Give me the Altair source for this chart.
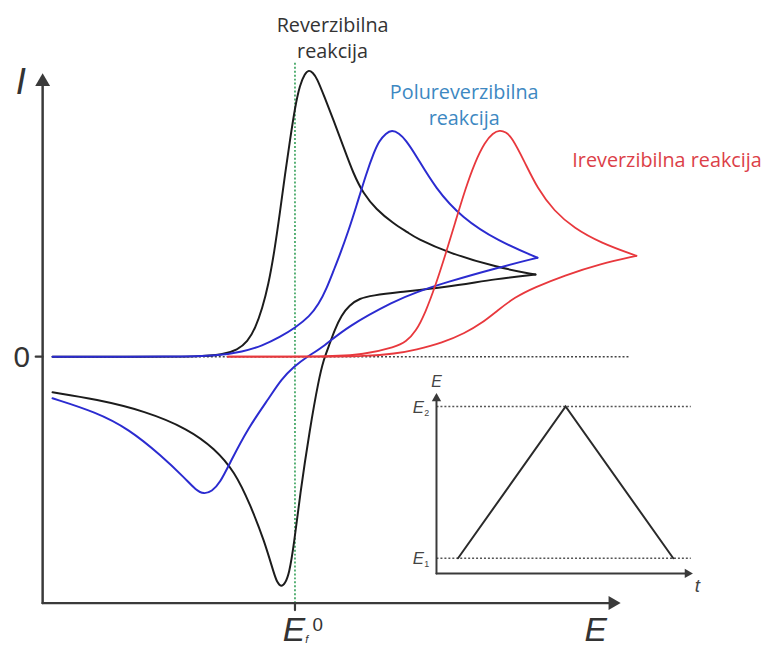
import altair as alt
import pandas as pd

# ---------------- main cyclic voltammograms (E relative to E0, current I; arbitrary units)
rev_fwd_E = [-245, -148, -98, -73, -58, -48, -40, -33, -27, -21, -15, -10, -5, 0, 5, 10, 14, 18, 22, 30, 39, 49, 59, 69, 82, 99, 115, 122, 155, 205, 243]
rev_fwd_I = [0, 0, 0, 2, 7, 15, 29, 49, 72, 105, 147, 185, 219, 252, 275, 286, 290, 287, 282, 262, 239, 212, 185, 165, 149, 135, 125, 120, 105, 90, 83]
rev_bwd_E = [243, 205, 152, 102, 79, 65, 55, 47, 40, 34, 29, 24, 15, 5, -1, -6, -10, -14, -18, -21, -31, -45, -61, -81, -108, -151, -201, -245]
rev_bwd_I = [83, 79, 70, 65, 62, 59, 52, 42, 27, 10, -3, -23, -73, -140, -190, -220, -229, -233, -228, -220, -186, -150, -116, -93, -73, -55, -43, -36]

quasi_fwd_E = [-245, -118, -78, -53, -33, -15, 0, 15, 24, 32, 39, 45, 54, 62, 72, 80, 85, 92, 98, 105, 112, 122, 142, 169, 205, 245]
quasi_fwd_I = [0, 0, 1, 5, 11, 20, 29, 41, 53, 69, 87, 102, 127, 152, 185, 207, 218, 226, 229, 226, 219, 204, 170, 140, 117, 100]
quasi_bwd_E = [245, 205, 152, 122, 102, 52, 29, 12, -1, -14, -25, -48, -65, -76, -84, -92, -100, -111, -135, -168, -201, -245]
quasi_bwd_I = [100, 90, 75, 65, 57, 30, 10, 0, -10, -23, -40, -73, -106, -128, -136, -139, -135, -123, -100, -73, -56, -42]

irr_fwd_E = [-68, 35, 69, 102, 112, 122, 132, 142, 152, 162, 172, 182, 192, 200, 207, 213, 219, 232, 245, 262, 282, 309, 345]
irr_fwd_I = [0, 0, 2, 10, 15, 25, 45, 72, 103, 136, 169, 197, 217, 226, 229, 227, 222, 197, 170, 147, 130, 115, 102]
irr_bwd_E = [345, 309, 272, 242, 222, 205, 189, 172, 149, 122, 102, 69, 35, -68]
irr_bwd_I = [102, 94, 82, 70, 60, 47, 34, 24, 14, 7, 3, 0.5, 0, 0]

# ---------------- inset: triangular potential sweep (t, E normalised: E1 = 0, E2 = 1)
sweep_t = [0, 1, 2]
sweep_E = [0, 1, 0]

# ---------------- scales
X = alt.Scale(domain=[-290, 477], nice=False, zero=False)
Y = alt.Scale(domain=[-294, 349], nice=False, zero=False)
IX = alt.Scale(domain=[-0.2, 2.2], range=[433, 694], nice=False, zero=False)
IY = alt.Scale(domain=[-0.1, 1.1], range=[568, 384], nice=False, zero=False)

AXC = "#3a3a3a"


def frame(E, I, name):
    return pd.DataFrame({"E": E, "I": I, "branch": name})


def path(df, color, width=2.0, dash=None, interp="basis", xs=X, ys=Y):
    kw = dict(color=color, strokeWidth=width, interpolate=interp, strokeCap="round")
    if dash:
        kw["strokeDash"] = dash
        kw["strokeCap"] = "butt"
    return alt.Chart(df).mark_line(**kw).encode(
        x=alt.X("E:Q", scale=xs, axis=None),
        y=alt.Y("I:Q", scale=ys, axis=None),
        detail="branch:N",
        order="E:Q",
    )


def arrow(E, I, shape, size, xs=X, ys=Y, color=AXC):
    return alt.Chart(pd.DataFrame({"E": [E], "I": [I]})).mark_point(
        shape=shape, filled=True, size=size, color=color, opacity=1, strokeWidth=0
    ).encode(x=alt.X("E:Q", scale=xs, axis=None), y=alt.Y("I:Q", scale=ys, axis=None))


def label(E, I, text, size, color="#333333", font="Liberation Sans", italic=False,
          xs=X, ys=Y, baseline="alphabetic"):
    kw = dict(fontSize=size, color=color, font=font, align="center", baseline=baseline)
    if italic:
        kw["fontStyle"] = "italic"
    return alt.Chart(pd.DataFrame({"E": [E], "I": [I], "t": [text]})).mark_text(**kw).encode(
        x=alt.X("E:Q", scale=xs, axis=None), y=alt.Y("I:Q", scale=ys, axis=None), text="t:N"
    )


# main axes (drawn as lines with arrow heads)
y_axis = path(frame([-255, -255], [-249, 278], "yaxis"), AXC, 2.5, interp="linear")
x_axis = path(frame([-255, 318], [-249, -249], "xaxis"), AXC, 2.5, interp="linear")
y_tick = path(frame([-262, -255], [0, 0], "ytick"), AXC, 2.2, interp="linear")
x_tick = path(frame([0, 0], [-249, -256], "xtick"), AXC, 2.2, interp="linear")
zero_line = path(frame([-245, 339], [0, 0], "zero"), "#444444", 1.6, dash=[2, 2], interp="linear")
e0_line = path(frame([0, 0], [-249, 299], "e0"), "#2f9e55", 1.6, dash=[2, 2], interp="linear")

rev = path(pd.concat([frame(rev_fwd_E, rev_fwd_I, "f"), frame(rev_bwd_E, rev_bwd_I, "b")]), "#1c1c1c", 2.0)
quasi = path(pd.concat([frame(quasi_fwd_E, quasi_fwd_I, "f"), frame(quasi_bwd_E, quasi_bwd_I, "b")]), "#2b2bd0", 2.0)
irr = path(pd.concat([frame(irr_fwd_E, irr_fwd_I, "f"), frame(irr_bwd_E, irr_bwd_I, "b")]), "#e8383d", 1.8)

main = alt.layer(
    zero_line, e0_line, y_axis, x_axis, y_tick, x_tick,
    arrow(-255, 280, "triangle-up", 225), arrow(323, -249, "triangle-right", 200),
    rev, quasi, irr,
    label(-277, 265, "I", 37, italic=True),
    label(-276, -10, "0", 30),
    label(-1, -287, "E", 34, italic=True),
    label(23, -277, "0", 19),
    label(12, -289, "f", 11, italic=True),
    label(304, -287, "E", 34, italic=True),
    label(38, 328, "Reverzibilna", 20, font="Open Sans"),
    label(38, 302, "reakcija", 20, font="Open Sans"),
    label(171, 260, "Polureverzibilna", 20, color="#3d88c2", font="Open Sans"),
    label(171, 234, "reakcija", 20, color="#3d88c2", font="Open Sans"),
    label(376, 192, "Ireverzibilna reakcija", 20, color="#dc3f48", font="Open Sans"),
)

# inset
ia = dict(xs=IX, ys=IY)
inset = alt.layer(
    path(frame([-0.2, 2.163], [1, 1], "e2"), "#555555", 1.5, dash=[2, 2], interp="linear", **ia),
    path(frame([-0.2, 2.163], [0, 0], "e1"), "#555555", 1.5, dash=[2, 2], interp="linear", **ia),
    path(frame([-0.2, -0.2], [-0.1, 1.06], "iy"), AXC, 2.0, interp="linear", **ia),
    path(frame([-0.2, 2.15], [-0.1, -0.1], "ix"), AXC, 2.0, interp="linear", **ia),
    arrow(-0.2, 1.062, "triangle-up", 90, xs=IX, ys=IY),
    arrow(2.145, -0.1, "triangle-right", 90, xs=IX, ys=IY),
    path(frame(sweep_t, sweep_E, "sweep"), "#2a2a2a", 2.0, interp="linear", **ia),
    label(-0.2, 1.13, "E", 16, italic=True, xs=IX, ys=IY, color="#444444"),
    label(2.225, -0.22, "t", 19, italic=True, xs=IX, ys=IY, color="#444444"),
    label(-0.368, 0.955, "E", 17, italic=True, xs=IX, ys=IY, color="#444444"),
    label(-0.29, 0.935, "2", 9, xs=IX, ys=IY, color="#444444"),
    label(-0.368, -0.04, "E", 17, italic=True, xs=IX, ys=IY, color="#444444"),
    label(-0.29, -0.06, "1", 9, xs=IX, ys=IY, color="#444444"),
)

chart = alt.layer(main, inset).resolve_scale(x="independent", y="independent").properties(
    width=767, height=643, autosize="none", padding=0
).configure(background="white").configure_view(stroke=None)

chart.save("out.html", embed_options={"renderer": "svg", "actions": False})
